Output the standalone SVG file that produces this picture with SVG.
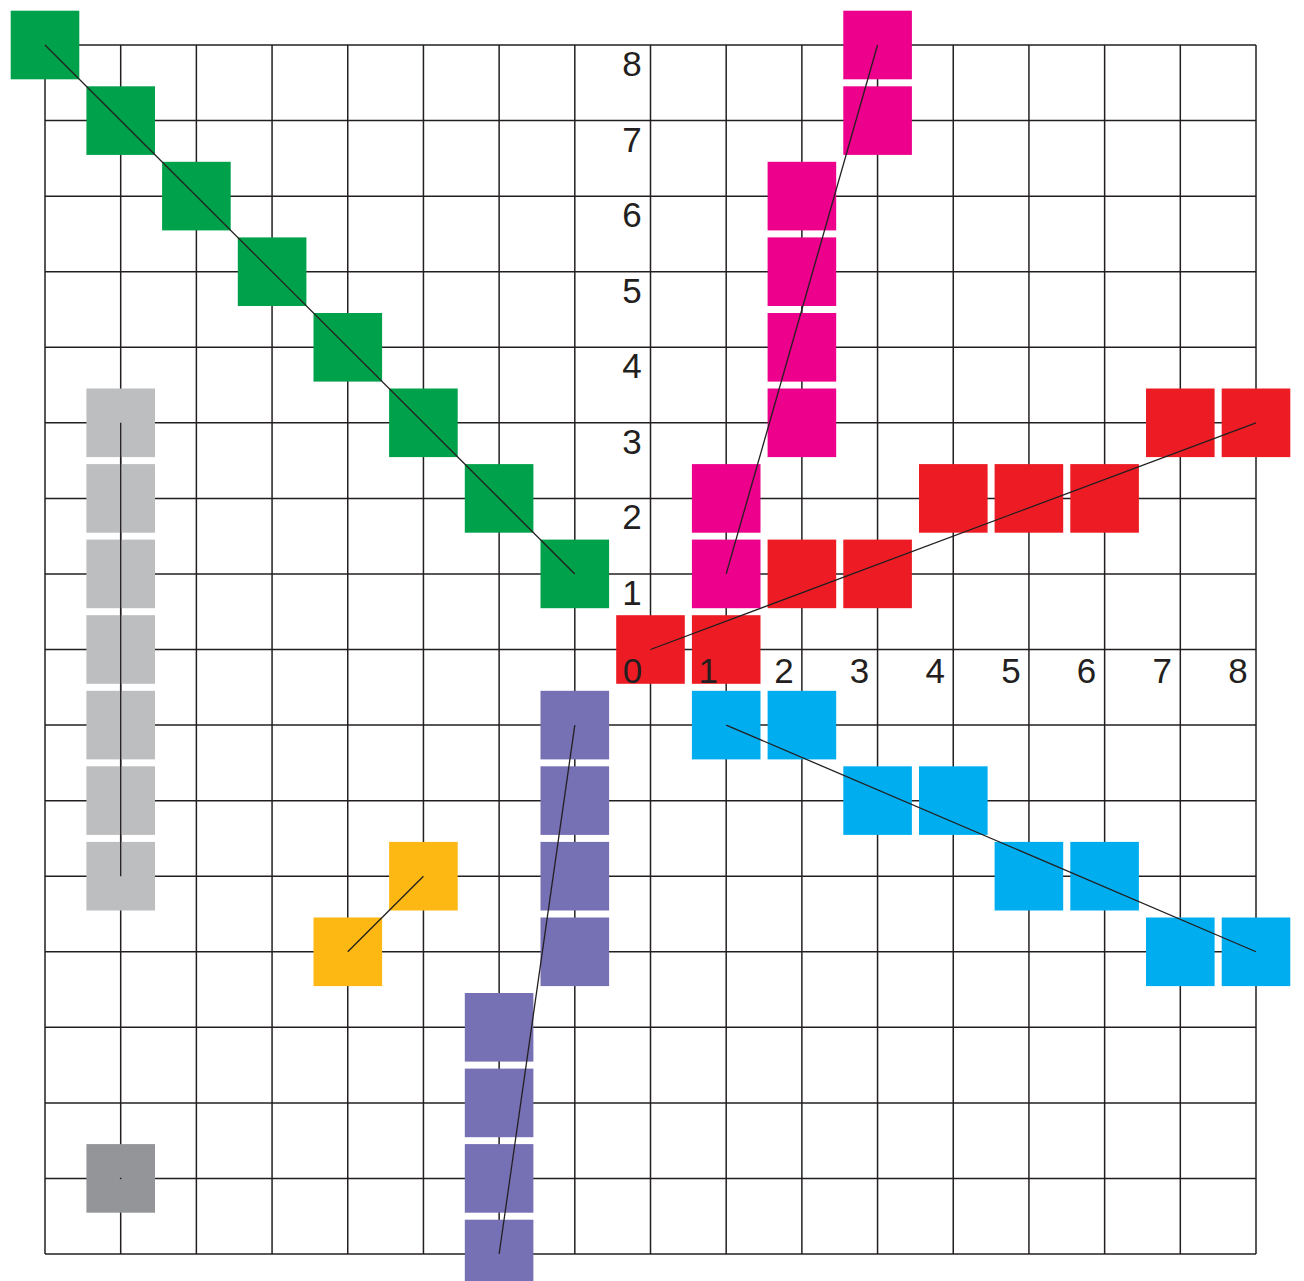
<svg xmlns="http://www.w3.org/2000/svg" width="1304" height="1281" viewBox="0 0 1304 1281">
<style>
.grid line{stroke:#231f20;stroke-width:1.5}
.sq{width:68.6px;height:68.6px}
.red{fill:#ed1c24}.mag{fill:#ec008c}.blue{fill:#00aeef}.green{fill:#00a14b}
.gray{fill:#bcbec0}.dgray{fill:#939598}.yel{fill:#fdb813}.pur{fill:#7671b4}
.conn line{stroke:#231f20;stroke-width:1.3;fill:none}
.lbl{font-family:"Liberation Sans",Arial,sans-serif;font-size:35px;fill:#231f20;text-anchor:middle}
</style>
<rect width="1304" height="1281" fill="#fff"/>
<g class="grid" id="grid">
<line x1="45" y1="45" x2="45" y2="1254"/><line x1="120.69" y1="45" x2="120.69" y2="1254"/><line x1="196.38" y1="45" x2="196.38" y2="1254"/><line x1="272.06" y1="45" x2="272.06" y2="1254"/><line x1="347.75" y1="45" x2="347.75" y2="1254"/><line x1="423.44" y1="45" x2="423.44" y2="1254"/><line x1="499.13" y1="45" x2="499.13" y2="1254"/><line x1="574.81" y1="45" x2="574.81" y2="1254"/><line x1="650.5" y1="45" x2="650.5" y2="1254"/><line x1="726.19" y1="45" x2="726.19" y2="1254"/><line x1="801.88" y1="45" x2="801.88" y2="1254"/><line x1="877.56" y1="45" x2="877.56" y2="1254"/><line x1="953.25" y1="45" x2="953.25" y2="1254"/><line x1="1028.94" y1="45" x2="1028.94" y2="1254"/><line x1="1104.63" y1="45" x2="1104.63" y2="1254"/><line x1="1180.31" y1="45" x2="1180.31" y2="1254"/><line x1="1256" y1="45" x2="1256" y2="1254"/>
<line x1="45" y1="45" x2="1256" y2="45"/><line x1="45" y1="120.56" x2="1256" y2="120.56"/><line x1="45" y1="196.13" x2="1256" y2="196.13"/><line x1="45" y1="271.69" x2="1256" y2="271.69"/><line x1="45" y1="347.25" x2="1256" y2="347.25"/><line x1="45" y1="422.81" x2="1256" y2="422.81"/><line x1="45" y1="498.38" x2="1256" y2="498.38"/><line x1="45" y1="573.94" x2="1256" y2="573.94"/><line x1="45" y1="649.5" x2="1256" y2="649.5"/><line x1="45" y1="725.06" x2="1256" y2="725.06"/><line x1="45" y1="800.63" x2="1256" y2="800.63"/><line x1="45" y1="876.19" x2="1256" y2="876.19"/><line x1="45" y1="951.75" x2="1256" y2="951.75"/><line x1="45" y1="1027.31" x2="1256" y2="1027.31"/><line x1="45" y1="1102.88" x2="1256" y2="1102.88"/><line x1="45" y1="1178.44" x2="1256" y2="1178.44"/><line x1="45" y1="1254" x2="1256" y2="1254"/>
</g>
<g id="red" class="red">
<rect class="sq" x="616.2" y="615.2" width="68.6" height="68.6"/><rect x="691.9" y="615.2" width="68.6" height="68.6"/><rect x="767.6" y="539.6" width="68.6" height="68.6"/><rect x="843.3" y="539.6" width="68.6" height="68.6"/><rect x="919" y="464.1" width="68.6" height="68.6"/><rect x="994.6" y="464.1" width="68.6" height="68.6"/><rect x="1070.3" y="464.1" width="68.6" height="68.6"/><rect x="1146" y="388.5" width="68.6" height="68.6"/><rect x="1221.7" y="388.5" width="68.6" height="68.6"/>
</g>
<g id="magenta" class="mag">
<rect x="691.9" y="539.6" width="68.6" height="68.6"/><rect x="691.9" y="464.1" width="68.6" height="68.6"/><rect x="767.6" y="388.5" width="68.6" height="68.6"/><rect x="767.6" y="313" width="68.6" height="68.6"/><rect x="767.6" y="237.4" width="68.6" height="68.6"/><rect x="767.6" y="161.8" width="68.6" height="68.6"/><rect x="843.3" y="86.3" width="68.6" height="68.6"/><rect x="843.3" y="10.7" width="68.6" height="68.6"/>
</g>
<g id="blue" class="blue">
<rect x="691.9" y="690.8" width="68.6" height="68.6"/><rect x="767.6" y="690.8" width="68.6" height="68.6"/><rect x="843.3" y="766.3" width="68.6" height="68.6"/><rect x="919" y="766.3" width="68.6" height="68.6"/><rect x="994.6" y="841.9" width="68.6" height="68.6"/><rect x="1070.3" y="841.9" width="68.6" height="68.6"/><rect x="1146" y="917.5" width="68.6" height="68.6"/><rect x="1221.7" y="917.5" width="68.6" height="68.6"/>
</g>
<g id="green" class="green">
<rect x="10.7" y="10.7" width="68.6" height="68.6"/><rect x="86.4" y="86.3" width="68.6" height="68.6"/><rect x="162.1" y="161.8" width="68.6" height="68.6"/><rect x="237.8" y="237.4" width="68.6" height="68.6"/><rect x="313.5" y="313" width="68.6" height="68.6"/><rect x="389.1" y="388.5" width="68.6" height="68.6"/><rect x="464.8" y="464.1" width="68.6" height="68.6"/><rect x="540.5" y="539.6" width="68.6" height="68.6"/>
</g>
<g id="gray" class="gray">
<rect x="86.4" y="388.5" width="68.6" height="68.6"/><rect x="86.4" y="464.1" width="68.6" height="68.6"/><rect x="86.4" y="539.6" width="68.6" height="68.6"/><rect x="86.4" y="615.2" width="68.6" height="68.6"/><rect x="86.4" y="690.8" width="68.6" height="68.6"/><rect x="86.4" y="766.3" width="68.6" height="68.6"/><rect x="86.4" y="841.9" width="68.6" height="68.6"/>
</g>
<g id="darkgray" class="dgray">
<rect x="86.4" y="1144.1" width="68.6" height="68.6"/>
</g>
<g id="yellow" class="yel">
<rect x="389.1" y="841.9" width="68.6" height="68.6"/><rect x="313.5" y="917.5" width="68.6" height="68.6"/>
</g>
<g id="purple" class="pur">
<rect x="540.5" y="690.8" width="68.6" height="68.6"/><rect x="540.5" y="766.3" width="68.6" height="68.6"/><rect x="540.5" y="841.9" width="68.6" height="68.6"/><rect x="540.5" y="917.5" width="68.6" height="68.6"/><rect x="464.8" y="993" width="68.6" height="68.6"/><rect x="464.8" y="1068.6" width="68.6" height="68.6"/><rect x="464.8" y="1144.1" width="68.6" height="68.6"/><rect x="464.8" y="1219.7" width="68.6" height="68.6"/>
</g>
<g class="conn" id="connectors">
<line x1="650.5" y1="649.5" x2="1256" y2="422.81"/>
<line x1="726.19" y1="573.94" x2="877.56" y2="45"/>
<line x1="726.19" y1="725.06" x2="1256" y2="951.75"/>
<line x1="45" y1="45" x2="574.81" y2="573.94"/>
<line x1="120.69" y1="422.81" x2="120.69" y2="876.19"/>
<line x1="119.9" y1="1178.44" x2="121.5" y2="1178.44"/>
<line x1="423.44" y1="876.19" x2="347.75" y2="951.75"/>
<line x1="574.81" y1="725.06" x2="499.13" y2="1254"/>
</g>
<g id="labels" class="lbl">
<text x="632" y="605">1</text><text x="632" y="529.4">2</text><text x="632" y="453.8">3</text><text x="632" y="378.3">4</text><text x="632" y="302.7">5</text><text x="632" y="227.1">6</text><text x="632" y="151.6">7</text><text x="632" y="76">8</text>
<text x="632.5" y="683">0</text><text x="708.2" y="683">1</text><text x="783.9" y="683">2</text><text x="859.6" y="683">3</text><text x="935.3" y="683">4</text><text x="1010.9" y="683">5</text><text x="1086.6" y="683">6</text><text x="1162.3" y="683">7</text><text x="1238" y="683">8</text>
</g>
</svg>
